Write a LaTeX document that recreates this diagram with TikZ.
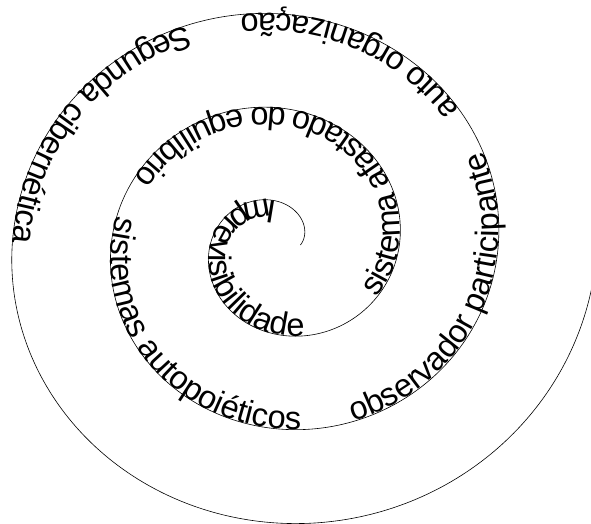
\documentclass[tikz,border=0pt]{standalone}
\usepackage{fontspec}
\setmainfont{Liberation Sans}
\newfontfamily\spiralfont{Liberation Sans}
\usetikzlibrary{decorations.text}
\begin{document}
\begin{tikzpicture}[x=1pt,y=-1pt,
  declare function={sx(\t)=280+1.02*(20+15.44*\t)*cos(\t r);
                    sy(\t)=245-0.97*(20+15.44*\t)*sin(\t r);},
  spiralline/.style={draw=black,line width=0.6pt},
  spiraltext/.style={decorate,decoration={text along path,
     text={|\spiralfont\fontsize{32.5}{32.5}\selectfont|#1}}}]
\useasboundingbox (0,0) rectangle (591,523);
% the spiral
\draw[spiralline] plot[domain=0:18.72,samples=900,variable=\t] ({sx(\t)},{sy(\t)});
% texts along the spiral
\path[spiraltext={Imprevisibilidade}] plot[domain=1.62:5.8,samples=150,variable=\t] ({sx(\t)},{sy(\t)});
\path[spiraltext={sistema afastado do equilíbrio}] plot[domain=5.76:9.6,samples=200,variable=\t] ({sx(\t)},{sy(\t)});
\path[spiraltext={sistemas autopoiéticos}] plot[domain=9.24:11.6,samples=150,variable=\t] ({sx(\t)},{sy(\t)});
\path[spiraltext={observador participante}] plot[domain=11.37:13.4,samples=150,variable=\t] ({sx(\t)},{sy(\t)});
\path[spiraltext={auto organização}] plot[domain=13.24:14.7,samples=150,variable=\t] ({sx(\t)},{sy(\t)});
\path[spiraltext={Segunda cibernética}] plot[domain=14.52:16.1,samples=150,variable=\t] ({sx(\t)},{sy(\t)});
\end{tikzpicture}
\end{document}
